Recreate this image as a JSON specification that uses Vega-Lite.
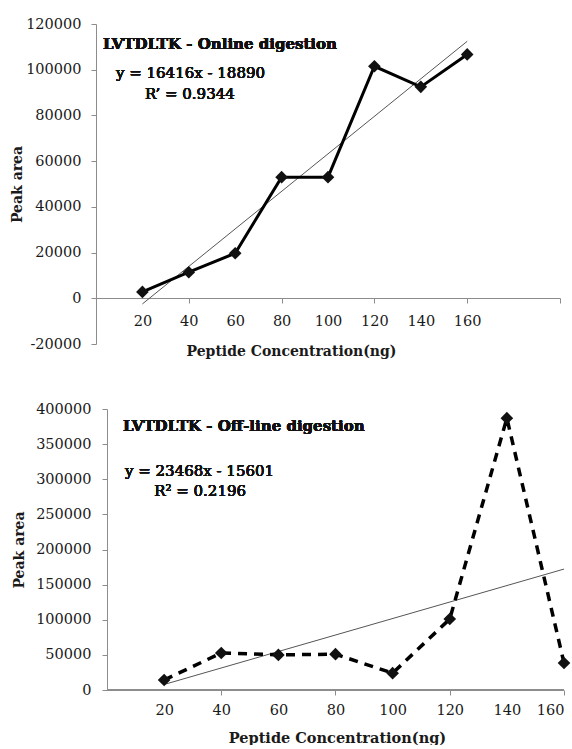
{
  "$schema": "https://vega.github.io/schema/vega-lite/v6.json",
  "background": "white",
  "padding": {"left": 10, "top": 16, "right": 5, "bottom": 0},
  "config": {
    "font": "DejaVu Serif",
    "view": {"stroke": null},
    "text": {"font": "DejaVu Serif"},
    "axis": {
      "labelFont": "DejaVu Serif",
      "titleFont": "DejaVu Serif",
      "labelColor": "#1a1a1a",
      "titleColor": "#1a1a1a",
      "domainColor": "#8c8c8c",
      "tickColor": "#8c8c8c",
      "grid": false,
      "labelFontSize": 14.5,
      "titleFontSize": 14,
      "titleFontWeight": "bold",
      "tickSize": 5
    }
  },
  "concat": [
    {
      "width": 464,
      "height": 320,
      "data": {"values": [
        {"conc": 20, "area": 2800},
        {"conc": 40, "area": 11400},
        {"conc": 60, "area": 19700},
        {"conc": 80, "area": 53000},
        {"conc": 100, "area": 53000},
        {"conc": 120, "area": 101500},
        {"conc": 140, "area": 92500},
        {"conc": 160, "area": 106700}
      ]},
      "encoding": {
        "x": {"field": "conc", "type": "quantitative",
          "scale": {"domain": [0, 200], "nice": false},
          "axis": {
            "title": "Peptide Concentration(ng)",
            "values": [20, 40, 60, 80, 100, 120, 140, 160, 200],
            "labelExpr": "datum.value > 160 ? '' : '' + datum.value",
            "tickOpacity": {"condition": {"test": "datum.value % 40 === 0", "value": 1}, "value": 0},
            "offset": -46,
            "labelPadding": 11,
            "titlePadding": 17,
            "titleX": 195,
            "titleAlign": "center"
          }},
        "y": {"field": "area", "type": "quantitative",
          "scale": {"domain": [-20000, 120000], "nice": false},
          "axis": {
            "title": "Peak area",
            "values": [-20000, 0, 20000, 40000, 60000, 80000, 100000, 120000],
            "labelExpr": "'' + datum.value",
            "labelPadding": 10,
            "titlePadding": 1
          }}
      },
      "layer": [
        {
          "data": {"values": [{"conc": 20, "area": -2474}, {"conc": 160, "area": 112438}]},
          "mark": {"type": "line", "color": "#555555", "strokeWidth": 1}
        },
        {"mark": {"type": "line", "color": "#000000", "strokeWidth": 3}},
        {"mark": {"type": "point", "shape": "diamond", "filled": true, "size": 160, "color": "#111111", "opacity": 1}},
        {
          "mark": {"type": "text", "align": "left", "baseline": "middle", "fontWeight": "bold", "fontSize": 15, "color": "#111111", "text": "LVTDLTK - Online digestion"},
          "encoding": {"x": {"datum": 3, "type": "quantitative"}, "y": {"datum": 111250, "type": "quantitative"}}
        },
        {
          "mark": {"type": "text", "align": "left", "baseline": "middle", "fontSize": 15, "color": "#111111", "text": "y = 16416x - 18890"},
          "encoding": {"x": {"datum": 8.6, "type": "quantitative"}, "y": {"datum": 98560, "type": "quantitative"}}
        },
        {
          "mark": {"type": "text", "align": "left", "baseline": "middle", "fontSize": 15, "color": "#111111", "text": "R’ = 0.9344"},
          "encoding": {"x": {"datum": 21.1, "type": "quantitative"}, "y": {"datum": 89375, "type": "quantitative"}}
        }
      ]
    },
    {
      "width": 468,
      "height": 281,
      "data": {"values": [
        {"conc": 20, "area": 14200},
        {"conc": 40, "area": 52700},
        {"conc": 60, "area": 50000},
        {"conc": 80, "area": 51000},
        {"conc": 100, "area": 24000},
        {"conc": 120, "area": 101000},
        {"conc": 140, "area": 387000},
        {"conc": 160, "area": 38500}
      ]},
      "encoding": {
        "x": {"field": "conc", "type": "quantitative",
          "scale": {"domain": [-3.85, 160], "nice": false, "zero": false},
          "axis": {
            "title": "Peptide Concentration(ng)",
            "titleFontSize": 14.5,
            "domain": false,
            "values": [20, 40, 60, 80, 100, 120, 140, 160],
            "labelExpr": "'' + datum.value",
            "tickOpacity": {"condition": {"test": "datum.value % 40 === 0", "value": 1}, "value": 0},
            "labelPadding": 8,
            "titlePadding": 15,
            "titleX": 241,
            "titleAlign": "center"
          }},
        "y": {"field": "area", "type": "quantitative",
          "scale": {"domain": [0, 400000], "nice": false},
          "axis": {
            "title": "Peak area",
            "values": [0, 50000, 100000, 150000, 200000, 250000, 300000, 350000, 400000],
            "labelExpr": "'' + datum.value",
            "offset": -11,
            "labelPadding": 11,
            "titlePadding": 9
          }}
      },
      "layer": [
        {
          "mark": {"type": "rule", "color": "#8c8c8c", "strokeWidth": 1},
          "encoding": {
            "x": {"datum": 0, "type": "quantitative"},
            "x2": {"datum": 160},
            "y": {"datum": 0, "type": "quantitative"}
          }
        },
        {
          "data": {"values": [{"conc": 20, "area": 7867}, {"conc": 160, "area": 172143}]},
          "mark": {"type": "line", "color": "#555555", "strokeWidth": 1}
        },
        {"mark": {"type": "line", "color": "#000000", "strokeWidth": 3.5, "strokeDash": [9, 7]}},
        {"mark": {"type": "point", "shape": "diamond", "filled": true, "size": 160, "color": "#111111", "opacity": 1}},
        {
          "mark": {"type": "text", "align": "left", "baseline": "middle", "fontWeight": "bold", "fontSize": 15, "color": "#111111", "text": "LVTDLTK - Off-line digestion"},
          "encoding": {"x": {"datum": 5.6, "type": "quantitative"}, "y": {"datum": 375800, "type": "quantitative"}}
        },
        {
          "mark": {"type": "text", "align": "left", "baseline": "middle", "fontSize": 15, "color": "#111111", "text": "y = 23468x - 15601"},
          "encoding": {"x": {"datum": 6.3, "type": "quantitative"}, "y": {"datum": 311700, "type": "quantitative"}}
        },
        {
          "mark": {"type": "text", "align": "left", "baseline": "middle", "fontSize": 15, "color": "#111111", "text": "R² = 0.2196"},
          "encoding": {"x": {"datum": 16.5, "type": "quantitative"}, "y": {"datum": 283300, "type": "quantitative"}}
        }
      ]
    }
  ],
  "columns": 1,
  "align": "none",
  "spacing": 42
}
